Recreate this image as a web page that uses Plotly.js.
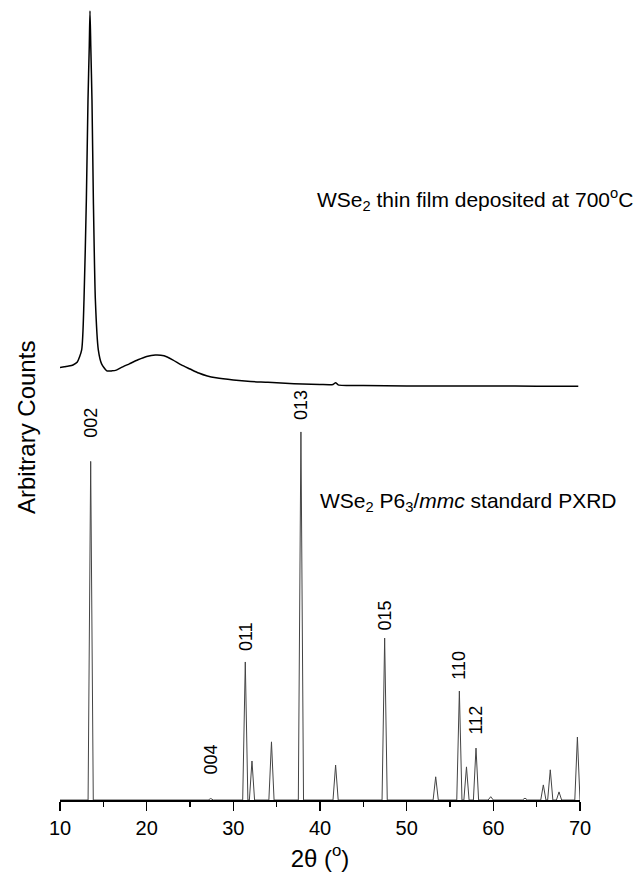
<!DOCTYPE html>
<html>
<head>
<meta charset="utf-8">
<script src="https://cdn.plot.ly/plotly-3.0.1.min.js"></script>
<style>html,body{margin:0;padding:0;background:#fff}#chart{width:641px;height:882px}</style>
</head>
<body>
<div id="chart"></div>
<script>
// Thin film pattern (2θ in degrees, arbitrary counts incl. vertical offset)
var filmTheta = [9.8,10.5,11.0,11.5,12.0,12.5,12.77,13.04,13.23,13.38,13.46,13.55,13.69,13.85,14.08,14.42,14.8,15.4,16.0,16.5,17,18,19,20,21,22,23,24,25,26,27,28,30,32,34,36,38,40,41.5,41.8,42.1,45,50,55,60,65,69.8];
var filmCounts = [117.4,117.7,117.9,118.2,119.0,122.3,135.9,163.0,190.2,205,214.4,205,190.2,163.0,135.9,122.3,118.5,116.6,116.6,116.8,117.4,118.5,119.6,120.5,120.9,120.7,119.6,118.2,117.1,116.0,115.2,114.7,114.1,113.7,113.5,113.2,113.0,112.9,112.9,113.4,112.8,112.6,112.5,112.5,112.5,112.4,112.4];

// Standard PXRD reflections (2θ, relative intensity)
var stdTheta = [13.54,27.4,31.38,32.15,34.4,37.8,41.8,47.46,53.35,56.08,56.9,58.0,59.7,63.65,65.77,66.57,67.58,69.7];
var stdIntensity = [92,0.4,37.5,10.6,15.8,100,9.5,44,6.3,29.6,9.0,14.1,0.9,0.5,4.1,8.2,2.2,17.1];

// hkl labels
var hklLabels = ["002","004","011","013","015","110","112"];
var hklTheta = [13.54,27.4,31.38,37.8,47.46,56.08,58.0];
var hklLabelY = [97.8,6.3,39.9,102.7,45.4,32.1,17.1];

var xTicks = [10,20,30,40,50,60,70];

// build standard peak profile from the reflection list
var hw = 0.3;
var sx = [10], sy = [0];
for (var i = 0; i < stdTheta.length; i++) {
  sx.push(stdTheta[i]-hw, stdTheta[i], stdTheta[i]+hw);
  sy.push(0, stdIntensity[i], 0);
}
sx.push(70); sy.push(0);

var FONT = 'Liberation Sans, Arial, sans-serif';
var traces = [
  {x: filmTheta, y: filmCounts, mode: 'lines', line: {color: '#000', width: 1.5, shape: 'spline', smoothing: 0.6}, hoverinfo: 'skip'},
  {x: sx, y: sy, mode: 'lines', line: {color: '#444', width: 1}, hoverinfo: 'skip'}
];

var annotations = [];
for (var j = 0; j < hklLabels.length; j++) {
  annotations.push({x: hklTheta[j], y: hklLabelY[j], xref: 'x', yref: 'y', text: hklLabels[j],
    showarrow: false, textangle: -90, xanchor: 'center', yanchor: 'bottom',
    font: {family: FONT, size: 18, color: '#000'}});
}
annotations.push({x: (315-60)/520, y: (800-200)/795, xref: 'paper', yref: 'paper', xanchor: 'left', yanchor: 'middle', showarrow: false,
  text: 'WSe<sub>2</sub> thin film deposited at 700<sup>o</sup>C', font: {family: FONT, size: 21, color: '#000'}});
annotations.push({x: (318-60)/520, y: (800-502)/795, xref: 'paper', yref: 'paper', xanchor: 'left', yanchor: 'middle', showarrow: false,
  text: 'WSe<sub>2</sub> P6<sub>3</sub>/<i>mmc</i> standard PXRD', font: {family: FONT, size: 21, color: '#000'}});
annotations.push({x: (26-60)/520, y: (800-428)/795, xref: 'paper', yref: 'paper', xanchor: 'center', yanchor: 'middle', showarrow: false,
  textangle: -90, text: 'Arbitrary Counts', font: {family: FONT, size: 24, color: '#000'}});

var layout = {
  width: 641, height: 882,
  margin: {l: 60, r: 61, t: 5, b: 82},
  paper_bgcolor: '#fff', plot_bgcolor: '#fff',
  showlegend: false,
  font: {family: FONT, color: '#000'},
  xaxis: {
    range: [10, 70], tickvals: xTicks, ticktext: xTicks.map(String),
    ticks: 'outside', ticklen: 9, tickwidth: 1.5, tickcolor: '#000',
    showline: true, linewidth: 1.5, linecolor: '#000', showgrid: false, zeroline: false,
    tickfont: {size: 20, family: FONT},
    minor: {dtick: 5, tick0: 10, ticks: 'outside', ticklen: 5, tickwidth: 1.5, tickcolor: '#000', showgrid: false},
    title: {text: '2θ (<sup>o</sup>)', font: {size: 24, family: FONT}, standoff: 12},
    automargin: false, fixedrange: true
  },
  yaxis: {range: [0, 216], visible: false, fixedrange: true},
  annotations: annotations
};

Plotly.newPlot('chart', traces, layout, {staticPlot: true});
</script>
</body>
</html>
